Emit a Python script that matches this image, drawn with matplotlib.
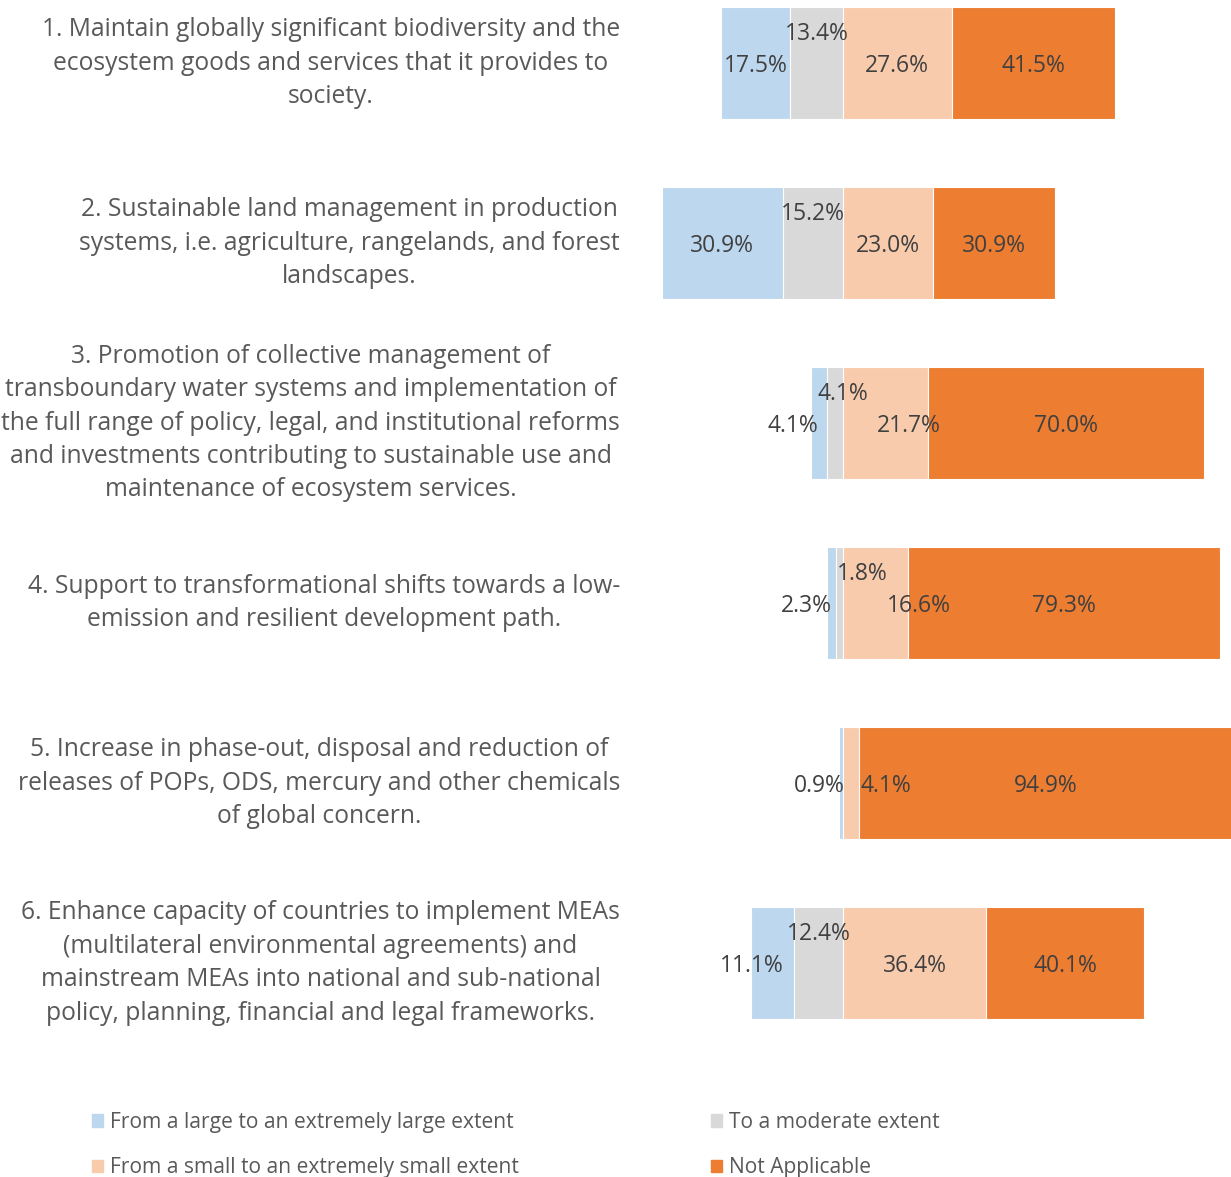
import matplotlib.pyplot as plt
from matplotlib.patches import Patch

plt.rcParams['font.family'] = ['Open Sans', 'DejaVu Sans']

categories = [
    "1. Maintain globally significant biodiversity and the\necosystem goods and services that it provides to\nsociety.",
    "2. Sustainable land management in production\nsystems, i.e. agriculture, rangelands, and forest\nlandscapes.",
    "3. Promotion of collective management of\ntransboundary water systems and implementation of\nthe full range of policy, legal, and institutional reforms\nand investments contributing to sustainable use and\nmaintenance of ecosystem services.",
    "4. Support to transformational shifts towards a low-\nemission and resilient development path.",
    "5. Increase in phase-out, disposal and reduction of\nreleases of POPs, ODS, mercury and other chemicals\nof global concern.",
    "6. Enhance capacity of countries to implement MEAs\n(multilateral environmental agreements) and\nmainstream MEAs into national and sub-national\npolicy, planning, financial and legal frameworks.",
]
large = [17.5, 30.9, 4.1, 2.3, 0.9, 11.1]
moderate = [13.4, 15.2, 4.1, 1.8, 0.0, 12.4]
small = [27.6, 23.0, 21.7, 16.6, 4.1, 36.4]
not_applicable = [41.5, 30.9, 70.0, 79.3, 94.9, 40.1]

series_names = ["From a large to an extremely large extent", "To a moderate extent",
                "From a small to an extremely small extent", "Not Applicable"]
colors = ["#BDD7EE", "#D9D9D9", "#F8CBAD", "#ED7D31"]

# manual nudges of the data labels (in % units), as placed in the original
large_dx = [0, 0, -6.6, -6.4, -5.5, -5.3]
moderate_dx = [0, 0, 2.0, 5.7, 0, 0]
small_dx = [0, 0, 6.0, 10.9, 8.9, 0]

fig = plt.figure(figsize=(12.31, 11.77), dpi=100)
ax = fig.add_axes([660 / 1231, 124 / 1177, 571 / 1231, 1053 / 1177])
ax.set_xlim(-46.5, 98.6)
ax.set_ylim(5.5, -0.35)

y = list(range(len(categories)))
h = 0.622
left_large = [-(a + b) for a, b in zip(large, moderate)]
left_mod = [-b for b in moderate]
ax.barh(y, large, left=left_large, height=h, color=colors[0], edgecolor='white', linewidth=0.8)
ax.barh(y, moderate, left=left_mod, height=h, color=colors[1], edgecolor='white', linewidth=0.8)
ax.barh(y, small, left=0, height=h, color=colors[2], edgecolor='white', linewidth=0.8)
ax.barh(y, not_applicable, left=small, height=h, color=colors[3], edgecolor='white', linewidth=0.8)

lab_kw = dict(ha='center', va='center', fontsize=16.5, color='#404040')
for i in y:
    yl = i + 0.017
    ax.text(left_large[i] + large[i] / 2 + large_dx[i], yl, f"{large[i]:.1f}%", **lab_kw)
    if moderate[i] > 0:
        ax.text(left_mod[i] + moderate[i] / 2 + moderate_dx[i], yl - 0.18, f"{moderate[i]:.1f}%", **lab_kw)
    ax.text(small[i] / 2 + small_dx[i], yl, f"{small[i]:.1f}%", **lab_kw)
    ax.text(small[i] + not_applicable[i] / 2, yl, f"{not_applicable[i]:.1f}%", **lab_kw)

# category labels on the left
for i, cat in enumerate(categories):
    ax.annotate(cat, xy=(0, i), xycoords=('figure fraction', 'data'),
                xytext=(620 / 1231, i), textcoords=('figure fraction', 'data'),
                ha='right', va='center', multialignment='center',
                fontsize=17.7, color='#595959', linespacing=1.445)

ax.axis('off')

# legend in two columns
h1 = [Patch(color=colors[0]), Patch(color=colors[2])]
h2 = [Patch(color=colors[1]), Patch(color=colors[3])]
leg_kw = dict(loc='upper left', frameon=False, fontsize=15.1, handlelength=0.52, handleheight=0.52,
              handletextpad=0.35, labelspacing=1.15, labelcolor='#595959', borderaxespad=0, borderpad=0)
fig.legend(h1, [series_names[0], series_names[2]], bbox_to_anchor=(92 / 1231, 1 - 1112 / 1177), **leg_kw)
fig.legend(h2, [series_names[1], series_names[3]], bbox_to_anchor=(711 / 1231, 1 - 1112 / 1177), **leg_kw)

fig.savefig("out.png", dpi=100)
